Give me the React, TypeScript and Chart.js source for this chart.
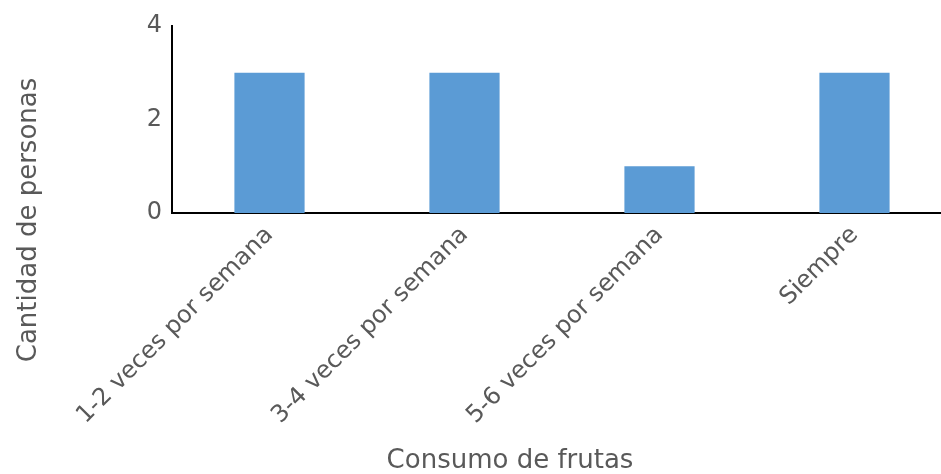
import React, { useEffect, useRef } from "react";
import { Chart, registerables } from "chart.js";

Chart.register(...registerables);

const categories = ["1-2 veces por semana", "3-4 veces por semana", "5-6 veces por semana", "Siempre"];
const values = [3, 3, 1, 3];
const yTicks = [0, 2, 4];
const xTitle = "Consumo de frutas";
const yTitle = "Cantidad de personas";

const TEXT = "#595959";
const FONT = "'DejaVu Sans', sans-serif";

const titlesPlugin = {
  id: "titles",
  afterDraw(chart: any) {
    const ctx = chart.ctx;
    ctx.save();
    ctx.fillStyle = TEXT;
    ctx.font = `26px ${FONT}`;
    ctx.textAlign = "center";
    ctx.textBaseline = "middle";
    ctx.fillText(xTitle, 510, 461);
    ctx.translate(29, 220);
    ctx.rotate(-Math.PI / 2);
    ctx.fillText(yTitle, 0, 0);
    ctx.restore();
  },
};

export default function App() {
  const ref = useRef<HTMLCanvasElement>(null);
  useEffect(() => {
    if (!ref.current) return;
    const chart = new Chart(ref.current, {
      type: "bar",
      data: {
        labels: categories,
        datasets: [
          {
            data: values,
            backgroundColor: "#5b9bd5",
            barPercentage: 0.36,
            categoryPercentage: 1,
          },
        ],
      },
      options: {
        responsive: false,
        animation: false,
        layout: { padding: { left: 0, right: 8, top: 26, bottom: 0 } },
        plugins: { legend: { display: false }, tooltip: { enabled: false } },
        scales: {
          x: {
            grid: { display: false, drawTicks: false },
            border: { color: "#000", width: 2 },
            ticks: {
              color: TEXT,
              font: { size: 24, family: FONT },
              minRotation: 45,
              maxRotation: 45,
              padding: 8,
            },
            afterFit: (s: any) => {
              s.height = 474 - 213;
            },
          },
          y: {
            min: 0,
            max: 4,
            grid: { display: false, drawTicks: false },
            border: { color: "#000", width: 2 },
            afterBuildTicks: (s: any) => {
              s.ticks = yTicks.map((v) => ({ value: v }));
            },
            ticks: {
              color: TEXT,
              font: { size: 24, family: FONT },
              padding: 10,
            },
            afterFit: (s: any) => {
              s.width = 172;
            },
          },
        },
      },
      plugins: [titlesPlugin],
    });
    return () => chart.destroy();
  }, []);
  return (
    <div style={{ position: "fixed", left: 0, top: 0, width: 941, height: 474, overflow: "hidden", background: "#fff" }}>
      <canvas ref={ref} width={960} height={474} style={{ width: 960, height: 474 }} />
    </div>
  );
}
